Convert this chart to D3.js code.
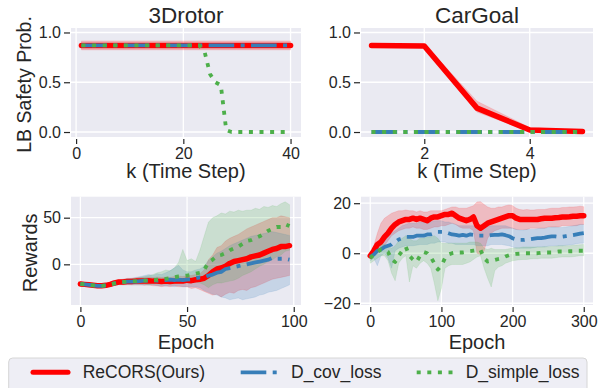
<!DOCTYPE html>
<html>
<head>
<meta charset="utf-8">
<script src="https://cdn.jsdelivr.net/npm/d3@7"></script>
<style>
  body { margin: 0; background: #fff; }
  svg { display: block; font-family: "Liberation Sans", Arial, sans-serif; }
</style>
</head>
<body>
<svg id="chart" width="602" height="388"></svg>
<script>
// ---- data ----
const seriesNames = ['ReCORS(Ours)', 'D_cov_loss', 'D_simple_loss'];

// 3Drotor, k = 1..40
const k3D = [1,2,3,4,5,6,7,8,9,10,11,12,13,14,15,16,17,18,19,20,21,22,23,24,25,26,27,28,29,30,31,32,33,34,35,36,37,38,39,40];
const red3D = [0.87,0.87,0.87,0.87,0.87,0.87,0.87,0.87,0.87,0.87,0.87,0.87,0.87,0.87,0.87,0.87,0.87,0.87,0.87,0.87,
  0.87,0.87,0.87,0.87,0.87,0.87,0.87,0.87,0.87,0.87,0.87,0.87,0.87,0.87,0.87,0.87,0.87,0.87,0.87,0.87];
const redLo3D = [0.825,0.825,0.825,0.825,0.825,0.825,0.825,0.825,0.825,0.825,0.825,0.825,0.825,0.825,0.825,0.825,0.825,0.825,0.825,0.825,
  0.825,0.825,0.825,0.825,0.825,0.825,0.825,0.825,0.825,0.825,0.825,0.825,0.825,0.825,0.825,0.825,0.825,0.825,0.825,0.825];
const redHi3D = [0.915,0.915,0.915,0.915,0.915,0.915,0.915,0.915,0.915,0.915,0.915,0.915,0.915,0.915,0.915,0.915,0.915,0.915,0.915,0.915,
  0.915,0.915,0.915,0.915,0.915,0.915,0.915,0.915,0.915,0.915,0.915,0.915,0.915,0.915,0.915,0.915,0.915,0.915,0.915,0.915];
const blue3D = [0.87,0.87,0.87,0.87,0.87,0.87,0.87,0.87,0.87,0.87,0.87,0.87,0.87,0.87,0.87,0.87,0.87,0.87,0.87,0.87,
  0.87,0.87,0.87,0.87,0.87,0.87,0.87,0.87,0.87,0.87,0.87,0.87,0.87,0.87,0.87,0.87,0.87,0.87,0.87,0.87];
const green3D = [0.87,0.87,0.87,0.87,0.87,0.87,0.87,0.87,0.87,0.87,0.87,0.87,0.87,0.87,0.87,0.87,0.87,0.87,0.87,0.87,
  0.87,0.87,0.87,0.80,0.58,0.50,0.47,0.02,0,0,0,0,0,0,0,0,0,0,0,0];

// CarGoal, k = 1..5
const kCar = [1,2,3,4,5];
const redCar = [0.87,0.865,0.24,0.02,0.005];
const redLoCar = [0.85,0.845,0.20,0.005,0];
const redHiCar = [0.89,0.885,0.31,0.045,0.012];
const blueCar = [0,0,0,0,0];
const greenCar = [0,0,0,0,0];

// 3Drotor rewards, every 2nd epoch
const epochsA = [0,2,4,6,8,10,12,14,16,18,20,22,24,26,28,30,32,34,36,38,40,42,44,46,48,50,52,54,56,58,60,62,64,66,68,70,72,74,76,78,80,82,84,86,88,90,92,94,96,98];
const redA = [-21,-21.5,-22,-22.5,-23,-23,-22.5,-21.5,-20,-19,-19,-18.5,-18.5,-18,-18,-18,-17.5,-18,-18,-18.5,
  -18,-18.5,-18,-17.5,-18,-17,-17.5,-16.5,-16,-15,-12,-8,-5,-4,-2,1,3,4,5,6,8,9,10,12,14,16,17,19,19,20];
const redLoA = [-23,-23.5,-24,-24.5,-25,-25,-24.5,-23.5,-22,-21.5,-22,-22,-22,-22,-22,-22.5,-22,-23,-23,-24,
  -23,-24,-23,-24,-24,-24,-26,-25,-27,-29,-31,-33,-32,-35,-32,-30,-31,-28,-27,-28,-25,-24,-22,-20,-18,-16,-15,-14,-13,-12];
const redHiA = [-19,-19.5,-20,-20.5,-21,-21,-20.5,-19.5,-18,-16.5,-16,-15,-15,-14.5,-14,-14,-13.5,-14,-13.5,-14,
  -13.5,-14,-13,-12.5,-13,-12,-12,-11,-10,-6,5,10,18,20,25,28,30,32,35,38,40,42,44,46,48,50,50,52,51,50];
const blueA = [-21,-21.5,-22,-22.5,-23,-23,-22.5,-21.5,-20.5,-19.5,-19,-18.5,-18.5,-18.5,-18,-17.5,-17.5,-17,-17.5,-17,
  -17,-16.5,-17,-16.5,-17,-16.5,-16,-15,-14,-14,-12,-11,-9,-8,-5,-4,-3,-2,-1,0,1,2,3,4,5,7,6,6,6,5];
const blueLoA = [-23,-23.5,-24,-24.5,-25,-25,-24.5,-23.5,-22.5,-22,-22,-21.5,-22,-22,-22,-22,-22.5,-22,-23,-23,
  -23.5,-23,-24,-23,-24,-24,-24,-24,-25,-28,-30,-32,-33,-35,-36,-38,-37,-36,-38,-37,-36,-35,-33,-32,-30,-29,-28,-26,-24,-22];
const blueHiA = [-19,-19.5,-20,-20.5,-21,-21,-20.5,-19.5,-18.5,-17,-16,-15.5,-15,-14,-13,-12,-11,-12,-10,-11,
  -9,-7,-4,-1,-6,-8,-8,-6,-5,-2,4,8,12,14,17,20,22,24,26,28,30,31,32,33,34,35,34,33,32,31];
const greenA = [-21,-21.5,-22,-22.5,-23,-23,-22.5,-21.5,-20.5,-19.5,-19,-18.5,-18.5,-18,-17.5,-17.5,-17.5,-17,-16.5,-16,
  -15.5,-15,-14,-13,-12.5,-12,-11,-10,-9,-6,2,5,9,10,12,15,17,19,22,25,26,28,30,33,36,38,40,40,43,41];
const greenLoA = [-23,-23.5,-24,-24.5,-25,-25,-24.5,-23.5,-22.5,-21.5,-21.5,-21,-21,-21,-21,-21,-21.5,-21,-21,-21,
  -21,-21,-21,-20,-20,-20,-19,-19,-20,-22,-25,-22,-20,-20,-19,-18,-17,-15,-12,-10,-8,-5,-2,0,3,5,8,10,14,15];
const greenHiA = [-19,-19.5,-20,-20.5,-21,-21,-20.5,-19.5,-18.5,-17.5,-17,-16,-15.5,-15,-14,-13,-12,-11,-9,-8,
  -6,-7,-4,2,16,4,6,3,15,30,45,50,52,55,54,57,56,58,57,58,58,60,59,62,61,63,62,65,67,64];

// CarGoal rewards, every 5th epoch
const epochsB = [0,5,10,15,20,25,30,35,40,45,50,55,60,65,70,75,80,85,90,95,100,105,110,115,120,125,130,135,140,145,150,
  155,160,165,170,175,180,185,190,195,200,205,210,215,220,225,230,235,240,245,250,255,260,265,270,275,280,285,290,295,300];
const redB = [-1,1,3.5,4.5,6.5,8,10,11.5,12.5,13,13.5, 13.5,14,13.5,14,13.5,13,14,14.5,14.5,15,
  15.5,15.5,16,15,14,13.5,13,13.5,14.5,11, 10,11,12,12.5,13,13.5,14,14.5,15,15,
  14,13.5,13.5,13.5,13.5,13.5,13.5,13.8,14,14, 14,14.2,14.3,14.5,14.5,14.6,14.8,14.8,15,15];
const redLoB = [-2,-1,0,1,3,5,7,8,9,9.5,10, 10,10.5,10,10,9.5,9.5,10,10.5,10.5,11,
  11,11.5,12,11.5,10.5,10,10,10,9,0, -0.5,1,6,8,9,9.5,10,10,10,10,
  9.5,9.5,9.5,9.5,10,10,10,10,10,10.5, 10.5,10.5,10.5,11,11,11,11,11,11.5,11.5];
const redHiB = [0,3,8,12,14,15,16,16.5,17,17,17.3, 17,17,16.5,17,16.5,16.5,17,17,17,17,
  17.5,18,18.5,18.5,18,18,18,18.5,19,20.5, 20.6,19.5,18.5,18,18,18.5,18.5,19,19.3,19,
  18,17.5,17.3,17.5,17.3,17.3,17.5,17.5,17.5,17.8, 18,18,18,18.3,18.3,18.5,18.5,18.6,18.8,18.6];
const blueB = [-1.5,-0.5,1,1.5,2.5,3,3.5,4.5,5.5,6,6.5, 6.5,6.5,7,7,7,7.5,7.5,8,8.5,8.5,
  8.5,8,7.5,7.3,7,7.3,7,7.5,7.3,7, 7,7,7,7.2,7.3,7.3,7.5,7.2,6.8,6,
  5.5,5.3,5.3,5.5,5.6,5.8,6,6,6.2,6.5, 6.7,6.7,6.5,6.6,6.8,7,7.2,7.5,7.8,8];
const blueLoB = [-3,-2,-5,-1,0,-2,-6,1,2,2.5,3, 3,3,3.2,3.5,3.5,3.5,4,4,4.5,4.5,
  4.5,4,4,3.5,3.5,3.5,3.5,3.5,3.5,3, 3,3,3,3.5,3.5,3.5,3.5,3.2,3,2.5,
  2,2,2,2,2,2.2,2.5,2.5,2.5,2.8, 3,3,3,3,3.2,3.3,3.5,3.8,4,4];
const blueHiB = [0,2,4,5,6,7,8,9,10,11,11.5, 12,12,12,12.5,12.5,12.5,12.5,13,13,13,
  12.5,12.5,12,11.5,11,11,11,11,11,10.8, 10.8,10.8,10.8,11,11,11,11,11,10.5,10,
  9.5,9.3,9.3,9.5,9.5,9.5,9.8,10,10,10.3, 10.5,10.5,10.3,10.3,10.5,10.7,11,11.2,11.5,11.5];
const greenB = [-2,-0.5,0.5,1.5,1.5,0.5,-2.5,-3.5,-1,1,2.5, -1,-2.5,-3.5,-1,0.5,0,-1.5,-4,-6.5,-5,
  -2,-0.5,0,0.3,0.3,0.3,0.5,0.8,1,1.2, 1.3,-2,-3.3,-3,-2.7,-2.3,-2,-1.3,-0.8,-0.5,
  -0.3,-0.2,0,0,0,0,0,0.2,0.3,0.3, 0.3,0.5,0.7,0.7,0.7,0.8,0.8,1,1,1];
const greenLoB = [-4,-3,-2,-1,-1,-3,-8,-11,-4,-2,-1, -11.5,-5,-6,-4,-3,-4,-6,-12,-19,-14,
  -6,-5,-4.5,-4.5,-4.5,-4.5,-4,-3.5,-2.5,-1.5, -1,-6,-10,-13.5,-7,-5.5,-5,-4,-3.5,-3,
  -2.8,-2.6,-2.5,-2.5,-2.3,-2.2,-2.2,-2,-2,-2, -2,-1.8,-1.6,-1.5,-1.5,-1.5,-1.4,-1.2,-1,-1];
const greenHiB = [0,1.5,3,3.5,3.5,3,2,3,5,6,7, 6,5,5,6,6,6.5,6.5,7,6,4,
  4,4,4,4,4,4,4,4.5,4.5,4.5, 4,2,1.5,2,1.5,1.5,1.5,1.5,1.8,2,
  2.2,2.2,2.5,2.5,2.5,2.5,2.5,2.5,2.6,2.6, 2.7,2.8,3,3,3,3,3.2,3.3,3.4,3.5];

// ---- styles ----
const ink = '#262626';
const styles = [
  { color: '#ff0000', width: 5.5, dash: null, cap: 'round' },
  { color: '#377eb8', width: 3.8, dash: '25.6 6.4 4 6.4', cap: 'butt' },
  { color: '#4daf4a', width: 3.8, dash: '4 6.6', cap: 'butt' }
];

const panels = [
  { id: 'p1', title: '3Drotor', left: 71, right: 301, top: 28, bottom: 137,
    xDomain: [-0.95, 41.95], yDomain: [-0.05, 1.045], xTicks: [0, 20, 40], yTicks: [0, 0.5, 1],
    xFmt: d3.format('d'), yFmt: d3.format('.1f'),
    xLabel: 'k (Time Step)', xLabelY: 178, yLabel: 'LB Safety Prob.', yLabelX: 31, yLabelSize: 19.5,
    xs: k3D, lines: [red3D, blue3D, green3D], bands: [[redLo3D, redHi3D]] },
  { id: 'p2', title: 'CarGoal', left: 361, right: 593, top: 28, bottom: 137,
    xDomain: [0.8, 5.2], yDomain: [-0.05, 1.045], xTicks: [2, 4], yTicks: [0, 0.5, 1],
    xFmt: d3.format('d'), yFmt: d3.format('.1f'),
    xLabel: 'k (Time Step)', xLabelY: 178,
    xs: kCar, lines: [redCar, blueCar, greenCar], bands: [[redLoCar, redHiCar]] },
  { id: 'p3', left: 71, right: 301, top: 196.7, bottom: 305,
    xDomain: [-4.4, 103.4], yDomain: [-43.6, 72.5], xTicks: [0, 50, 100], yTicks: [0, 50],
    xFmt: d3.format('d'), yFmt: d3.format('d'),
    xLabel: 'Epoch', xLabelY: 348.5, yLabel: 'Rewards', yLabelX: 36.7, yLabelSize: 20,
    xs: epochsA, lines: [redA, blueA, greenA],
    bands: [[redLoA, redHiA], [blueLoA, blueHiA], [greenLoA, greenHiA]] },
  { id: 'p4', left: 361, right: 593, top: 196.7, bottom: 305,
    xDomain: [-13, 313], yDomain: [-20.7, 22.6], xTicks: [0, 100, 200, 300], yTicks: [-20, 0, 20],
    xFmt: d3.format('d'), yFmt: d3.format('d'),
    xLabel: 'Epoch', xLabelY: 348.5,
    xs: epochsB, lines: [redB, blueB, greenB],
    bands: [[redLoB, redHiB], [blueLoB, blueHiB], [greenLoB, greenHiB]] }
];

const svg = d3.select('#chart');

function drawPanel(p) {
  const x = d3.scaleLinear().domain(p.xDomain).range([p.left, p.right]);
  const y = d3.scaleLinear().domain(p.yDomain).range([p.bottom, p.top]);
  const g = svg.append('g');

  g.append('clipPath').attr('id', 'clip-' + p.id)
    .append('rect')
    .attr('x', p.left).attr('y', p.top)
    .attr('width', p.right - p.left).attr('height', p.bottom - p.top);

  g.append('rect')
    .attr('x', p.left).attr('y', p.top)
    .attr('width', p.right - p.left).attr('height', p.bottom - p.top)
    .attr('fill', '#eaeaf2');

  // grid
  g.selectAll('.gx').data(p.xTicks).enter().append('line')
    .attr('x1', d => x(d)).attr('x2', d => x(d))
    .attr('y1', p.top).attr('y2', p.bottom)
    .attr('stroke', '#fff').attr('stroke-width', 1.3);
  g.selectAll('.gy').data(p.yTicks).enter().append('line')
    .attr('x1', p.left).attr('x2', p.right)
    .attr('y1', d => y(d)).attr('y2', d => y(d))
    .attr('stroke', '#fff').attr('stroke-width', 1.3);

  const plot = g.append('g').attr('clip-path', `url(#clip-${p.id})`);

  p.bands.forEach((b, i) => {
    const area = d3.area()
      .x((d, j) => x(p.xs[j]))
      .y0((d, j) => y(b[0][j]))
      .y1((d, j) => y(b[1][j]));
    plot.append('path')
      .datum(b[0])
      .attr('d', area)
      .attr('fill', styles[i].color)
      .attr('fill-opacity', 0.2)
      .attr('stroke', styles[i].color)
      .attr('stroke-opacity', 0.15)
      .attr('stroke-width', 0.8);
  });

  p.lines.forEach((vals, i) => {
    const line = d3.line().x((d, j) => x(p.xs[j])).y(d => y(d));
    const s = styles[i];
    plot.append('path')
      .datum(vals)
      .attr('d', line)
      .attr('fill', 'none')
      .attr('stroke', s.color)
      .attr('stroke-width', s.width)
      .attr('stroke-linecap', s.cap)
      .attr('stroke-linejoin', 'round')
      .attr('stroke-dasharray', s.dash);
  });

  // axes
  const xAxis = g.append('g')
    .attr('transform', `translate(0,${p.bottom + 2})`)
    .call(d3.axisBottom(x).tickValues(p.xTicks).tickFormat(p.xFmt).tickSize(5).tickPadding(3.6));
  const yAxis = g.append('g')
    .attr('transform', `translate(${p.left - 1},0)`)
    .call(d3.axisLeft(y).tickValues(p.yTicks).tickFormat(p.yFmt).tickSize(6).tickPadding(3));
  [xAxis, yAxis].forEach(a => {
    a.select('.domain').remove();
    a.selectAll('line').attr('stroke', ink).attr('stroke-width', 1.2);
    a.selectAll('text').attr('fill', ink).style('font-size', '16px')
      .style('font-family', '"Liberation Sans", Arial, sans-serif');
  });

  if (p.title) {
    g.append('text')
      .attr('x', (p.left + p.right) / 2).attr('y', 23.3)
      .attr('text-anchor', 'middle')
      .attr('fill', ink).style('font-size', '22.5px')
      .text(p.title);
  }

  g.append('text')
    .attr('x', (p.left + p.right) / 2).attr('y', p.xLabelY)
    .attr('text-anchor', 'middle')
    .attr('fill', ink).style('font-size', '20px')
    .text(p.xLabel);

  if (p.yLabel) {
    g.append('text')
      .attr('transform', `translate(${p.yLabelX},${(p.top + p.bottom) / 2 + 2}) rotate(-90)`)
      .attr('text-anchor', 'middle')
      .attr('fill', ink).style('font-size', p.yLabelSize + 'px')
      .text(p.yLabel);
  }
}

panels.forEach(drawPanel);

// legend
const legend = svg.append('g');
legend.append('rect')
  .attr('x', 8.7).attr('y', 358)
  .attr('width', 578.3).attr('height', 44)
  .attr('rx', 4)
  .attr('fill', '#eeeef5')
  .attr('stroke', '#d6d6d6')
  .attr('stroke-width', 1);

const legendX = [33, 240.7, 416.7];
const handleLen = [35, 36, 36];
const labelX = [82.7, 291, 465.7];
seriesNames.forEach((name, i) => {
  const s = styles[i];
  legend.append('line')
    .attr('x1', legendX[i]).attr('x2', legendX[i] + handleLen[i])
    .attr('y1', 372.3).attr('y2', 372.3)
    .attr('stroke', s.color)
    .attr('stroke-width', i === 0 ? 5 : 3.8)
    .attr('stroke-linecap', s.cap)
    .attr('stroke-dasharray', s.dash);
  legend.append('text')
    .attr('x', labelX[i]).attr('y', 377.7)
    .attr('fill', ink).style('font-size', '17.5px')
    .text(name);
});
</script>
</body>
</html>
